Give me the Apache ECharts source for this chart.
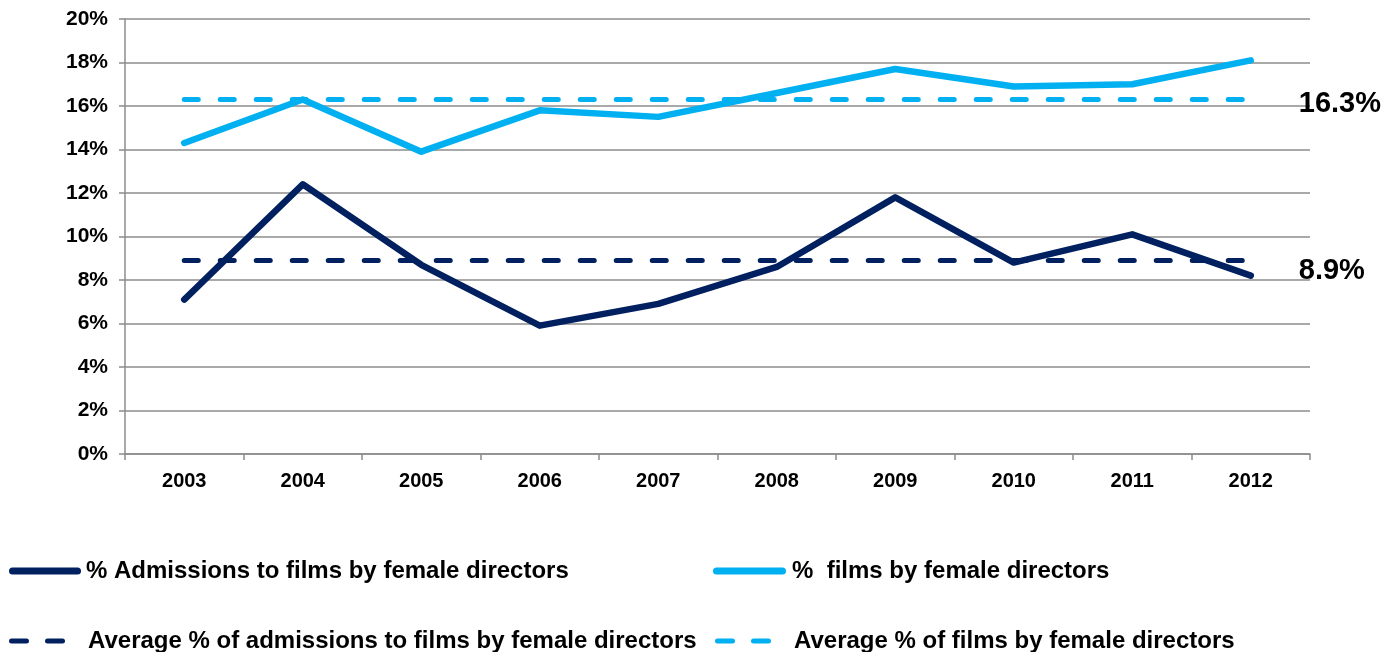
<!DOCTYPE html>
<html>
<head>
<meta charset="utf-8">
<script src="https://cdn.jsdelivr.net/npm/echarts@6/dist/echarts.min.js"></script>
<style>
  html, body { margin: 0; padding: 0; background: #fff; }
  #chart { width: 1387px; height: 652px; }
</style>
</head>
<body>
<div id="chart"></div>
<script>
var years = ['2003', '2004', '2005', '2006', '2007', '2008', '2009', '2010', '2011', '2012'];
var admissionsPct = [7.1, 12.4, 8.7, 5.9, 6.9, 8.6, 11.8, 8.8, 10.1, 8.2];
var filmsPct = [14.3, 16.3, 13.9, 15.8, 15.5, 16.6, 17.7, 16.9, 17.0, 18.1];
var avgAdmissions = 8.9;
var avgFilms = 16.3;

var NAVY = '#002060';
var CYAN = '#00b0f0';
var GRID = '#8c8c8c';
var FONT = '"Liberation Sans", Arial, sans-serif';

// legend glyphs: a thick rounded bar and two short dashes
var SOLID_ICON = 'path://M3.5,0H68.5A3.5,3.5,0,0,1,68.5,7H3.5A3.5,3.5,0,0,1,3.5,0Z';
var DASH_ICON = 'path://M2.5,0H17.5A2.5,2.5,0,0,1,17.5,5H2.5A2.5,2.5,0,0,1,2.5,0Z' +
  'M38.5,0H53.5A2.5,2.5,0,0,1,53.5,5H38.5A2.5,2.5,0,0,1,38.5,0Z';

function flat(v) {
  return years.map(function () { return v; });
}

function endLabel(offsetY) {
  return {
    show: true,
    distance: 48,
    offset: [0, offsetY],
    formatter: function (p) { return Number(p.value).toFixed(1) + '%'; },
    fontFamily: FONT,
    fontWeight: 'bold',
    fontSize: 29,
    color: '#000'
  };
}

function legendItem(name, icon, left, top, w, h, gap) {
  return {
    data: [{ name: name, icon: icon }],
    left: left, top: top,
    padding: 0,
    itemWidth: w, itemHeight: h, itemGap: 0,
    symbolKeepAspect: false,
    textStyle: {
      fontFamily: FONT, fontWeight: 'bold', fontSize: 24, color: '#000',
      padding: [0, 0, 0, gap]
    }
  };
}

var chart = echarts.init(document.getElementById('chart'), null, { renderer: 'canvas' });

chart.setOption({
  animation: false,
  grid: { left: 125, right: 77, top: 19, bottom: 198, containLabel: false },
  legend: [
    legendItem('% Admissions to films by female directors', SOLID_ICON, 9, 559, 72, 7, 0),
    legendItem('%  films by female directors', SOLID_ICON, 713, 559, 73, 7, 1),
    legendItem('Average % of admissions to films by female directors', DASH_ICON, 9, 629, 56, 5, 18),
    legendItem('Average % of films by female directors', DASH_ICON, 715, 629, 56, 5, 18)
  ],
  xAxis: {
    type: 'category',
    data: years,
    boundaryGap: true,
    axisLine: { lineStyle: { color: GRID, width: 1.5 } },
    axisTick: { show: true, length: 6, lineStyle: { color: GRID, width: 1.5 } },
    axisLabel: { fontFamily: FONT, fontWeight: 'bold', fontSize: 20, color: '#000', margin: 17 }
  },
  yAxis: {
    type: 'value',
    min: 0,
    max: 20,
    interval: 2,
    axisLine: { show: true, lineStyle: { color: GRID, width: 1.5 } },
    axisTick: { show: true, length: 6, lineStyle: { color: GRID, width: 1.5 } },
    splitLine: { lineStyle: { color: GRID, width: 1.5 } },
    axisLabel: {
      fontFamily: FONT, fontWeight: 'bold', fontSize: 21, color: '#000', margin: 17,
      formatter: function (v) { return v + '%'; }
    }
  },
  series: [
    {
      name: '% Admissions to films by female directors',
      type: 'line',
      data: admissionsPct,
      symbol: 'none',
      lineStyle: { color: NAVY, width: 6.5, cap: 'round', join: 'round' },
      itemStyle: { color: NAVY },
      z: 4
    },
    {
      name: '%  films by female directors',
      type: 'line',
      data: filmsPct,
      symbol: 'none',
      lineStyle: { color: CYAN, width: 6.5, cap: 'round', join: 'round' },
      itemStyle: { color: CYAN },
      z: 4
    },
    {
      name: 'Average % of admissions to films by female directors',
      type: 'line',
      data: flat(avgAdmissions),
      symbol: 'none',
      lineStyle: { color: NAVY, width: 5, type: [14, 22], cap: 'round' },
      itemStyle: { color: NAVY },
      endLabel: endLabel(11),
      z: 3
    },
    {
      name: 'Average % of films by female directors',
      type: 'line',
      data: flat(avgFilms),
      symbol: 'none',
      lineStyle: { color: CYAN, width: 5, type: [14, 22], cap: 'round' },
      itemStyle: { color: CYAN },
      endLabel: endLabel(5),
      z: 3
    }
  ]
});
</script>
</body>
</html>
